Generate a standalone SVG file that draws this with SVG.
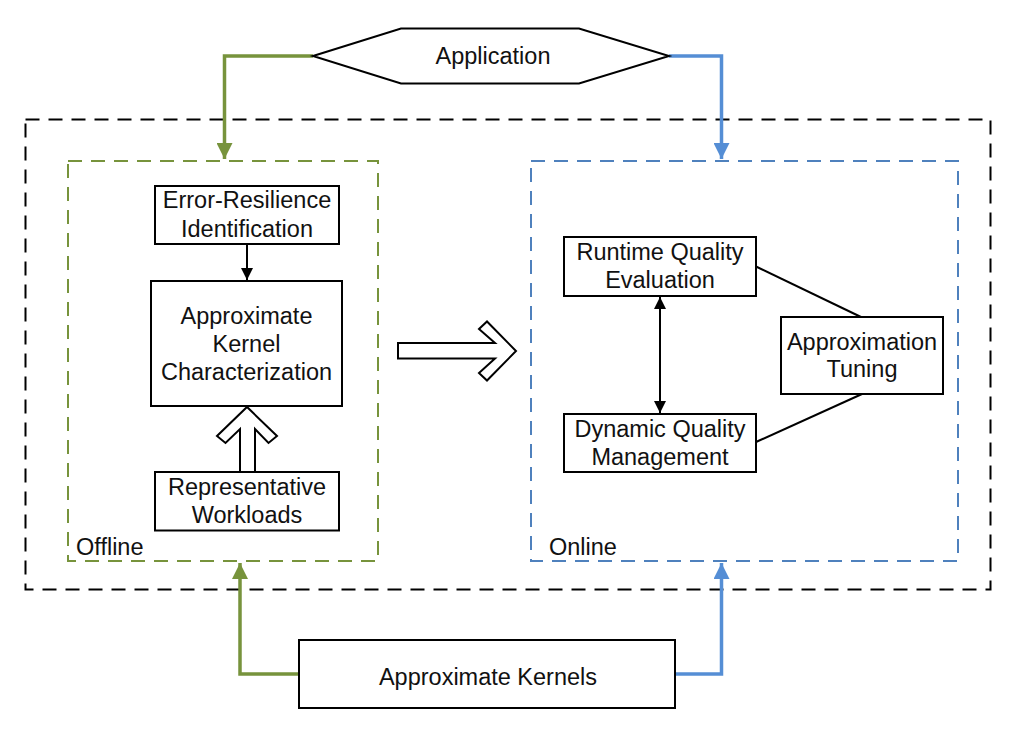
<svg xmlns="http://www.w3.org/2000/svg" width="1014" height="733" viewBox="0 0 1014 733">
<style>
  text { font-family: "Liberation Sans", Arial, sans-serif; font-size: 23.5px; fill: #111; text-anchor: middle; }
  .lbl { text-anchor: start; }
  .box { fill: #fff; stroke: #000; stroke-width: 2; }
  .outer { fill: none; stroke: #000; stroke-width: 2; stroke-dasharray: 14 9; }
  .off { fill: none; stroke: #77933C; stroke-width: 2; stroke-dasharray: 14 9; }
  .on { fill: none; stroke: #4F81BD; stroke-width: 2; stroke-dasharray: 14 9; }
  .g { fill: none; stroke: #77933C; stroke-width: 3.5; }
  .b { fill: none; stroke: #558ED5; stroke-width: 3.5; }
  .k { fill: none; stroke: #000; stroke-width: 2; }
  .hollow { fill: #fff; stroke: #000; stroke-width: 2; stroke-linejoin: miter; }
</style>
<defs>
  <marker id="ag" markerUnits="userSpaceOnUse" markerWidth="16" markerHeight="16" viewBox="0 0 16 16" refX="16" refY="8" orient="auto">
    <path d="M0,0 L16,8 L0,16 Z" fill="#77933C"/>
  </marker>
  <marker id="ab" markerUnits="userSpaceOnUse" markerWidth="16" markerHeight="16" viewBox="0 0 16 16" refX="16" refY="8" orient="auto">
    <path d="M0,0 L16,8 L0,16 Z" fill="#558ED5"/>
  </marker>
  <marker id="ak" markerUnits="userSpaceOnUse" markerWidth="12" markerHeight="12" viewBox="0 0 12 12" refX="12" refY="6" orient="auto">
    <path d="M0,0 L12,6 L0,12 Z" fill="#000"/>
  </marker>
  <marker id="aks" markerUnits="userSpaceOnUse" markerWidth="12" markerHeight="12" viewBox="0 0 12 12" refX="0" refY="6" orient="auto">
    <path d="M12,0 L0,6 L12,12 Z" fill="#000"/>
  </marker>
</defs>

<rect id="system" class="outer" x="25.5" y="119.5" width="965" height="470"/>

<g id="offline">
  <rect class="off" x="68" y="161" width="310" height="400"/>
  <text class="lbl" x="76" y="555">Offline</text>
</g>
<g id="online">
  <rect class="on" x="531" y="161" width="427" height="400"/>
  <text class="lbl" x="549" y="555">Online</text>
</g>

<g id="connectors">
  <path class="g" d="M313,56 H224.5 V159" marker-end="url(#ag)"/>
  <path class="b" d="M669,56 H721.5 V159" marker-end="url(#ab)"/>
  <path class="g" d="M299,674 H240 V563" marker-end="url(#ag)"/>
  <path class="b" d="M675,674 H721.5 V563" marker-end="url(#ab)"/>
  <path class="k" d="M247,244 V280" marker-end="url(#ak)"/>
  <path class="k" d="M660,297 V413" marker-start="url(#aks)" marker-end="url(#ak)"/>
  <path class="k" d="M756,266.5 L861,317"/>
  <path class="k" d="M756,442 L862,394"/>
  <polygon class="hollow" points="240,472 240,429 225.5,443 217,436 247,407 277,436 268.5,443 255,429 255,472"/>
  <polygon class="hollow" points="398,343 495,343 479,329 487,321.5 516,351 487,380.5 479,373 495,358.5 398,358.5"/>
</g>

<g id="application">
  <polygon class="box" points="313,56 401,28.5 579,28.5 669,56 579,83.5 401,83.5"/>
  <text x="493" y="63.5">Application</text>
</g>

<g id="error-resilience">
  <rect class="box" x="155" y="186" width="184" height="58"/>
  <text x="247" y="208">Error-Resilience</text>
  <text x="247" y="236.5">Identification</text>
</g>

<g id="kernel-characterization">
  <rect class="box" x="151" y="281" width="191" height="125"/>
  <text x="246.5" y="323.5">Approximate</text>
  <text x="246.5" y="352">Kernel</text>
  <text x="246.5" y="380">Characterization</text>
</g>

<g id="workloads">
  <rect class="box" x="155" y="472" width="184" height="58.5"/>
  <text x="247" y="495">Representative</text>
  <text x="247" y="522.5">Workloads</text>
</g>

<g id="runtime-quality">
  <rect class="box" x="564" y="237" width="192" height="59"/>
  <text x="660" y="259.5">Runtime Quality</text>
  <text x="660" y="288">Evaluation</text>
</g>

<g id="dynamic-quality">
  <rect class="box" x="564" y="414" width="192" height="58"/>
  <text x="660" y="436.5">Dynamic Quality</text>
  <text x="660" y="464.5">Management</text>
</g>

<g id="approx-tuning">
  <rect class="box" x="781" y="317" width="162" height="77"/>
  <text x="862" y="349.5">Approximation</text>
  <text x="862" y="377">Tuning</text>
</g>

<g id="approx-kernels">
  <rect class="box" x="299" y="640" width="376" height="68"/>
  <text x="488" y="685">Approximate Kernels</text>
</g>
</svg>
